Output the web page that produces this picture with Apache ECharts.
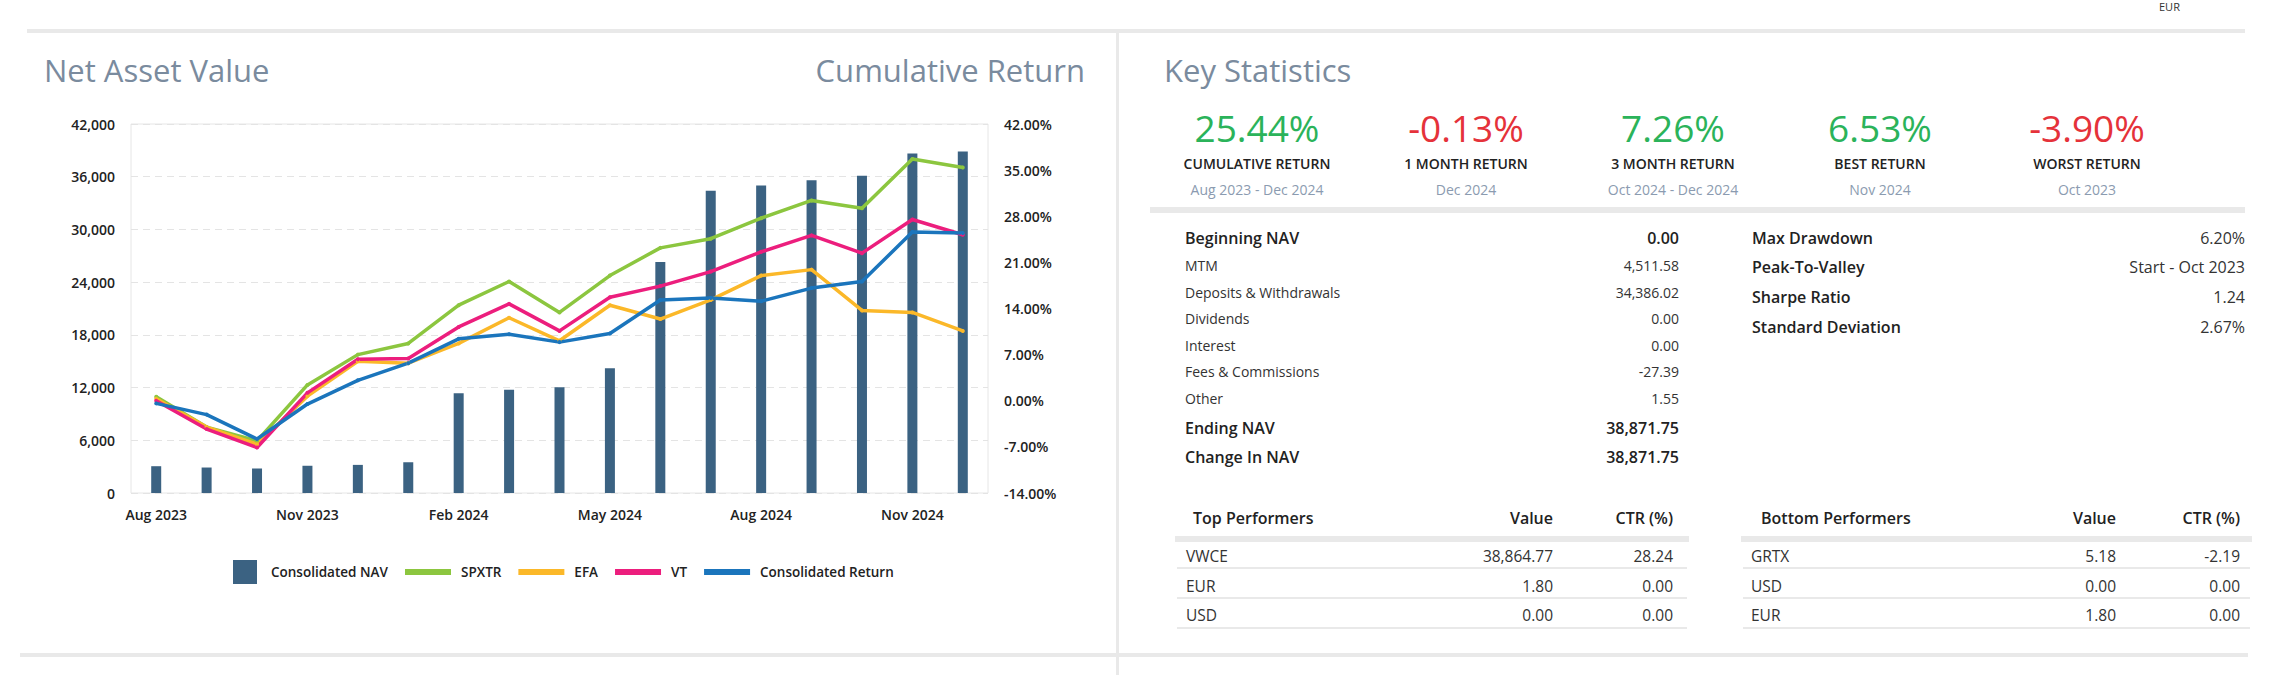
<!DOCTYPE html>
<html><head><meta charset="utf-8">
<script src="https://cdn.jsdelivr.net/npm/echarts@6/dist/echarts.min.js"></script>
<style>
html,body{margin:0;padding:0;background:#fff;}
body{width:2284px;height:675px;position:relative;overflow:hidden;font-family:'Open Sans',sans-serif;color:#222;}
.t{position:absolute;white-space:nowrap;}
.rule{position:absolute;background:#e9e9e9;}
#chart{position:absolute;left:0;top:0;width:1110px;height:675px;}
</style></head>
<body>
<div id="chart"></div>
<script>
// ---------- data ----------
const months = ['Aug 2023','Sep 2023','Oct 2023','Nov 2023','Dec 2023','Jan 2024','Feb 2024','Mar 2024','Apr 2024','May 2024','Jun 2024','Jul 2024','Aug 2024','Sep 2024','Oct 2024','Nov 2024','Dec 2024'];
const navValues = [3050, 2900, 2800, 3100, 3200, 3500, 11350, 11750, 12050, 14200, 26300, 34400, 35000, 35600, 36100, 38650, 38872];
const spxtr = [0.6, -4.0, -6.1, 2.4, 7.0, 8.7, 14.5, 18.1, 13.4, 19.0, 23.2, 24.6, 27.7, 30.4, 29.2, 36.7, 35.4];
const efa = [0.3, -4.0, -6.6, 0.7, 6.0, 5.7, 8.7, 12.6, 9.1, 14.5, 12.4, 15.3, 19.0, 19.9, 13.7, 13.4, 10.6];
const vt = [0.0, -4.3, -7.1, 1.2, 6.3, 6.4, 11.2, 14.7, 10.6, 15.7, 17.4, 19.6, 22.6, 25.1, 22.4, 27.5, 25.2];
const consolidatedReturn = [-0.4, -2.1, -5.8, -0.5, 3.1, 5.7, 9.4, 10.1, 8.9, 10.2, 15.3, 15.6, 15.1, 17.1, 18.1, 25.6, 25.44];
const seriesNames = ['Consolidated NAV','SPXTR','EFA','VT','Consolidated Return'];

const statValues = ['25.44%','-0.13%','7.26%','6.53%','-3.90%'];
const statLabels = ['CUMULATIVE RETURN','1 MONTH RETURN','3 MONTH RETURN','BEST RETURN','WORST RETURN'];
const statPeriods = ['Aug 2023 - Dec 2024','Dec 2024','Oct 2024 - Dec 2024','Nov 2024','Oct 2023'];
const navLabels = ['Beginning NAV','MTM','Deposits & Withdrawals','Dividends','Interest','Fees & Commissions','Other','Ending NAV','Change In NAV'];
const navAmounts = ['0.00','4,511.58','34,386.02','0.00','0.00','-27.39','1.55','38,871.75','38,871.75'];
const navBoldRows = [0, 7, 8];
const riskLabels = ['Max Drawdown','Peak-To-Valley','Sharpe Ratio','Standard Deviation'];
const riskValues = ['6.20%','Start - Oct 2023','1.24','2.67%'];
const perfHeaders = ['Value','CTR (%)'];
const topNames = ['VWCE','EUR','USD'];
const topValues = ['38,864.77','1.80','0.00'];
const topCtr = ['28.24','0.00','0.00'];
const bottomNames = ['GRTX','USD','EUR'];
const bottomValues = ['5.18','0.00','1.80'];
const bottomCtr = ['-2.19','0.00','0.00'];

// ---------- layout helpers ----------
function rule(x, y, w, h){ const d=document.createElement('div'); d.className='rule'; Object.assign(d.style,{left:x+'px',top:y+'px',width:w+'px',height:h+'px'}); document.body.appendChild(d); }
function txt(s, x, cy, o){
  o=o||{}; const lh=o.lh||30; const d=document.createElement('div'); d.className='t'; d.textContent=s;
  d.style.top=(cy-lh/2)+'px'; d.style.height=lh+'px'; d.style.lineHeight=lh+'px';
  d.style.fontSize=(o.fs||14)+'px'; d.style.fontWeight=o.fw||400; d.style.color=o.c||'#222';
  if(o.align==='right'){ d.style.right=(2284-x)+'px'; d.style.textAlign='right'; }
  else if(o.align==='center'){ d.style.left=(x-150)+'px'; d.style.width='300px'; d.style.textAlign='center'; }
  else d.style.left=x+'px';
  document.body.appendChild(d); return d;
}
// frame rules
rule(27, 29, 2218, 4);
rule(1116, 33, 3, 642);
rule(20, 653, 2228, 4);
txt('EUR', 2159, 7, {fs:11, lh:14, c:'#333'});

// titles
const titleC = '#7a8b9e';
txt('Net Asset Value', 44, 70, {fs:31, lh:40, c:titleC});
txt('Cumulative Return', 1085, 70, {fs:31, lh:40, c:titleC, align:'right'});
txt('Key Statistics', 1164, 70, {fs:31, lh:40, c:titleC});

// key stats
const statCenters = [1257, 1466, 1673, 1880, 2087];
statValues.forEach((v,i)=>{
  const cx = statCenters[i];
  txt(v, cx, 128, {fs:37, lh:46, c: v.trim().startsWith('-') ? '#e5323a' : '#2bb35a', align:'center'});
  txt(statLabels[i], cx, 164, {fs:14, fw:600, lh:20, c:'#222', align:'center'});
  txt(statPeriods[i], cx, 190, {fs:14, lh:20, c:'#8b9bb0', align:'center'});
});
rule(1150, 207, 1095, 6);

// NAV table
const navY = [238, 266, 293, 319, 346, 372, 399, 428, 457];
navLabels.forEach((l,i)=>{
  const b = navBoldRows.includes(i);
  txt(l, 1185, navY[i], {fs: b?16:14, fw: b?600:400, lh:26, c: b?'#222':'#333'});
  txt(navAmounts[i], 1679, navY[i], {fs: b?16:14, fw: b?600:400, lh:26, c: b?'#222':'#333', align:'right'});
});
// risk table
const riskY = [238, 267, 297, 327];
riskLabels.forEach((l,i)=>{
  txt(l, 1752, riskY[i], {fs:16, fw:600, lh:28});
  txt(riskValues[i], 2245, riskY[i], {fs:16, lh:28, c:'#333', align:'right'});
});

// performers tables
function perfTable(title, names, vals, ctrs, hx, rx, valR, ctrR, barX, barW){
  txt(title, hx, 518, {fs:16, fw:600, lh:26});
  txt(perfHeaders[0], valR, 518, {fs:16, fw:600, lh:26, align:'right'});
  txt(perfHeaders[1], ctrR, 518, {fs:16, fw:600, lh:26, align:'right'});
  rule(barX, 536, barW, 6);
  const ry=[556, 586, 615], ly=[567, 597, 627];
  names.forEach((n,i)=>{
    txt(n, rx, ry[i], {fs:15.5, lh:26, c:'#333'});
    txt(vals[i], valR, ry[i], {fs:15.5, lh:26, c:'#333', align:'right'});
    txt(ctrs[i], ctrR, ry[i], {fs:15.5, lh:26, c:'#333', align:'right'});
    rule(barX+2, ly[i], barW-4, 2);
  });
}
perfTable('Top Performers', topNames, topValues, topCtr, 1193, 1186, 1553, 1673, 1175, 514);
perfTable('Bottom Performers', bottomNames, bottomValues, bottomCtr, 1761, 1751, 2116, 2240, 1741, 511);

// ---------- chart ----------
const chart = echarts.init(document.getElementById('chart'), null, {renderer:'svg'});
const colors = {nav:'#3b6282', spxtr:'#8cc63f', efa:'#fbb829', vt:'#ec1e7d', ret:'#1b75bc'};
const axisFont = {fontFamily:'Open Sans', fontSize:14, fontWeight:600, color:'#222'};
function lineSeries(name, data, color){
  return {name, type:'line', yAxisIndex:1, data, symbol:'circle', symbolSize:4, showSymbol:true,
    lineStyle:{width:3.5, color}, itemStyle:{color}, z:3};
}
chart.setOption({
  animation:false,
  textStyle:{fontFamily:'Open Sans'},
  grid:{left:131, top:124, right:122, bottom:182, show:true, borderColor:'#e6e6e6', borderWidth:1, backgroundColor:'transparent'},
  legend:[
    {data:[seriesNames[0]], left:233, top:560, padding:0, itemWidth:24, itemHeight:24, icon:'rect',
     textStyle:{fontFamily:'Open Sans', fontSize:13.5, fontWeight:600, color:'#222', padding:[0,0,0,9]}},
    {data:seriesNames.slice(1), left:405, top:565, padding:0, itemWidth:46, itemHeight:6, icon:'rect', itemGap:17,
     textStyle:{fontFamily:'Open Sans', fontSize:13.5, fontWeight:600, color:'#222', padding:[0,0,0,5]}}
  ],
  xAxis:{type:'category', data:months, boundaryGap:true,
    axisLine:{show:false}, axisTick:{show:false},
    axisLabel:Object.assign({interval:2, margin:14}, axisFont)},
  yAxis:[
    {type:'value', min:0, max:42000, interval:6000, position:'left',
     axisLine:{show:false}, axisTick:{show:false},
     axisLabel:Object.assign({margin:16, formatter:v=>v.toLocaleString('en-US')}, axisFont),
     splitLine:{show:true, lineStyle:{color:'#e4e4e4', width:1, type:[7,5]}}},
    {type:'value', min:-14, max:42, interval:7, position:'right',
     axisLine:{show:false}, axisTick:{show:false},
     axisLabel:Object.assign({margin:16, formatter:v=>v.toFixed(2)+'%'}, axisFont),
     splitLine:{show:false}}
  ],
  series:[
    {name:seriesNames[0], type:'bar', yAxisIndex:0, data:navValues, barWidth:10, itemStyle:{color:colors.nav}, z:2},
    lineSeries(seriesNames[1], spxtr, colors.spxtr),
    lineSeries(seriesNames[2], efa, colors.efa),
    lineSeries(seriesNames[3], vt, colors.vt),
    lineSeries(seriesNames[4], consolidatedReturn, colors.ret)
  ]
});
</script>
</body></html>
